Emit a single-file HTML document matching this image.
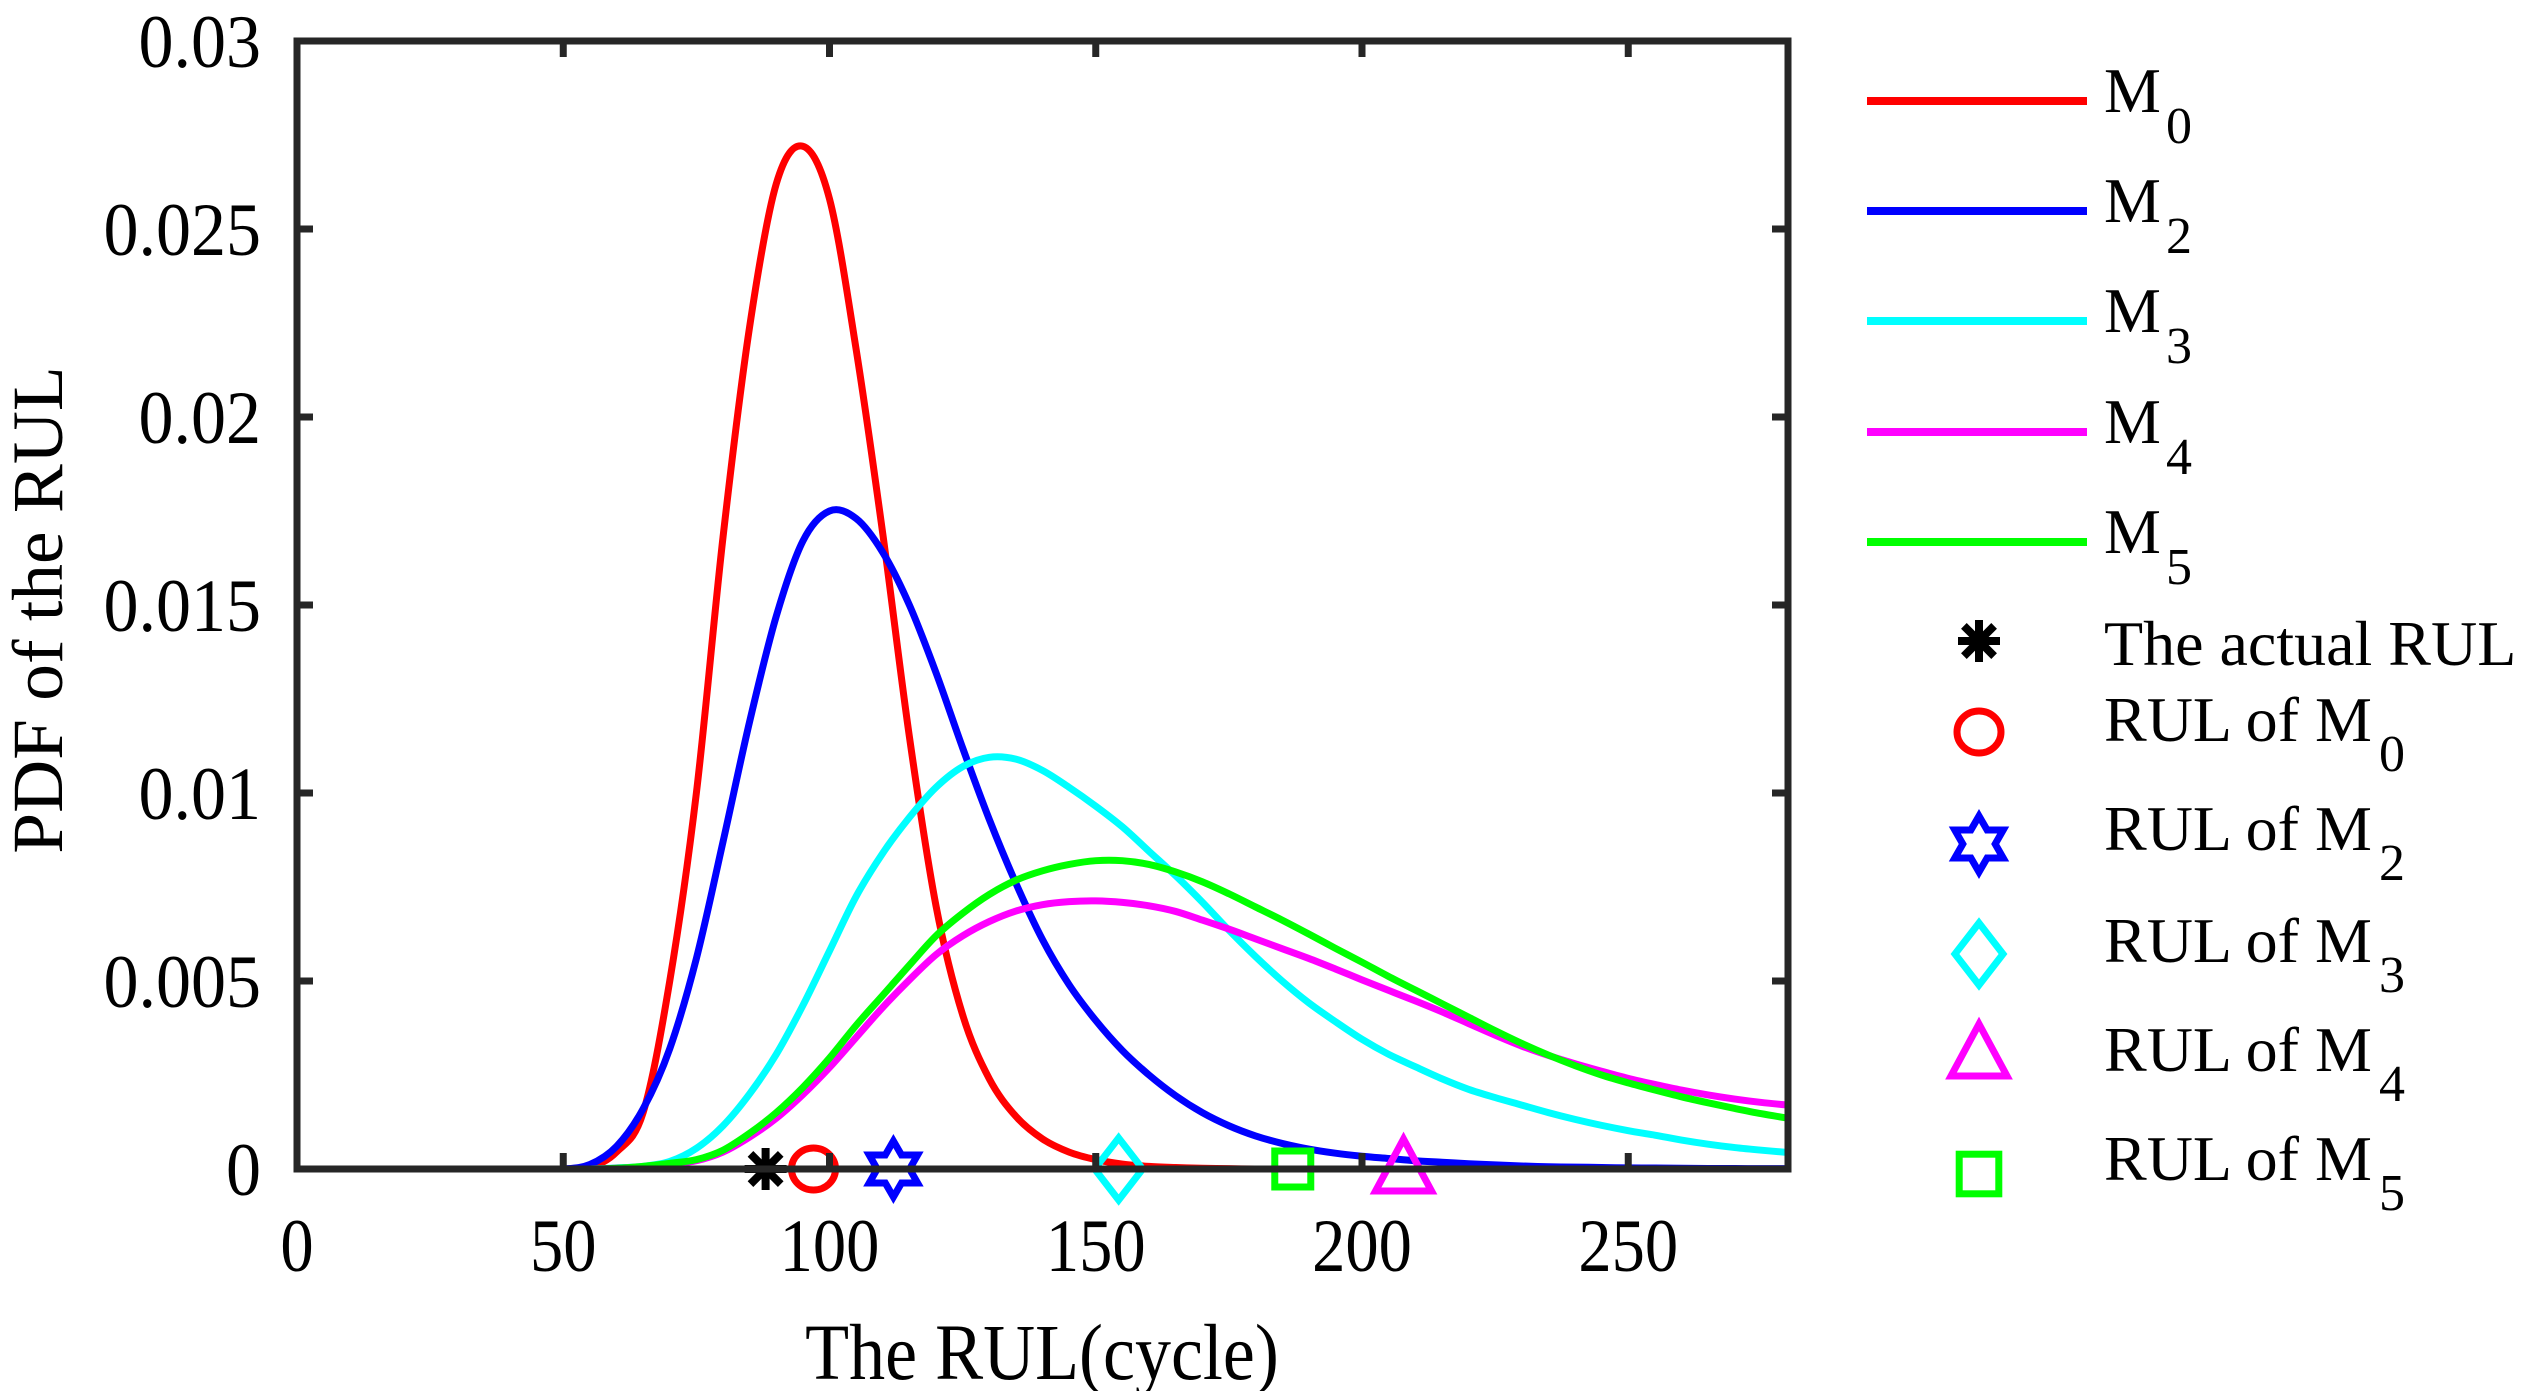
<!DOCTYPE html>
<html><head><meta charset="utf-8">
<style>
html,body{margin:0;padding:0;background:#fff;}
svg{display:block;}
text{font-family:"Liberation Serif",serif;fill:#000;}
</style></head>
<body>
<svg id="chart" xmlns="http://www.w3.org/2000/svg" width="2539" height="1391" viewBox="0 0 2539 1391">
<rect x="0" y="0" width="2539" height="1391" fill="#fff"/>
<g id="plot"></g>
<g id="axes"></g>
<g id="legend"></g>
</svg>
<script>
const xGrid = [0,40,45,50,55,60,65,70,75,80,85,90,95,100,105,110,115,120,125,130,135,140,145,150,155,160,165,170,175,180,185,190,195,200,205,210,215,220,225,230,235,240,245,250,255,260,265,270,275,280];
// values in units of 0.001
const m0Values = [0,0,0,0,0.05,0.45,1.5,5.0,10.0,16.8,22.4,26.2,27.2,25.8,21.8,16.9,11.5,7.0,4.1,2.4,1.4,0.8,0.45,0.25,0.13,0.07,0.04,0.02,0.01,0,0,0,0,0,0,0,0,0,0,0,0,0,0,0,0,0,0,0,0,0];
const m2Values = [0,0,0,0,0.12,0.6,1.6,3.2,5.6,8.7,11.9,14.7,16.7,17.5,17.3,16.4,15.0,13.2,11.2,9.3,7.6,6.1,4.9,3.95,3.15,2.5,1.95,1.5,1.15,0.88,0.68,0.53,0.42,0.34,0.28,0.22,0.18,0.14,0.11,0.08,0.06,0.05,0.04,0.03,0.025,0.02,0.015,0.012,0.01,0.01];
const m3Values = [0,0,0,0,0,0.03,0.07,0.2,0.55,1.15,2.0,3.05,4.35,5.8,7.25,8.4,9.35,10.15,10.7,10.95,10.9,10.6,10.15,9.65,9.1,8.45,7.8,7.1,6.35,5.65,5.0,4.42,3.92,3.45,3.05,2.72,2.4,2.12,1.9,1.7,1.5,1.32,1.16,1.02,0.9,0.77,0.66,0.57,0.5,0.44];
const m4Values = [0,0,0,0,0,0.02,0.06,0.13,0.22,0.45,0.85,1.35,1.98,2.7,3.5,4.3,5.03,5.7,6.2,6.58,6.86,7.03,7.11,7.13,7.09,7.0,6.85,6.62,6.38,6.12,5.86,5.6,5.32,5.03,4.75,4.47,4.18,3.87,3.56,3.27,3.02,2.8,2.6,2.41,2.25,2.1,1.97,1.86,1.77,1.7];
const m5Values = [0,0,0,0,0,0.02,0.07,0.15,0.25,0.5,0.95,1.5,2.17,2.95,3.82,4.62,5.42,6.2,6.8,7.3,7.68,7.93,8.1,8.2,8.2,8.1,7.9,7.64,7.32,6.97,6.62,6.25,5.87,5.5,5.12,4.76,4.4,4.04,3.68,3.34,3.03,2.75,2.5,2.29,2.1,1.92,1.76,1.61,1.47,1.35];
const markerX = [88, 97, 112, 154.3, 207.8, 187];
const xTicks = [0,50,100,150,200,250];
const yTicks = [0,0.005,0.01,0.015,0.02,0.025,0.03];
const yTickLabels = ["0","0.005","0.01","0.015","0.02","0.025","0.03"];

const NS = "http://www.w3.org/2000/svg";
const X0=297, X1=1788, Y0=1169, Y1=41, XMAX=280, YMAX=0.03;
function sx(v){return X0+(v/XMAX)*(X1-X0);}
function sy(v){return Y0-(v/YMAX)*(Y0-Y1);}
function mk(tag, attrs, parent){const e=document.createElementNS(NS,tag);for(const k in attrs)e.setAttribute(k,attrs[k]);parent.appendChild(e);return e;}
const plot=document.getElementById('plot'), axes=document.getElementById('axes'), legend=document.getElementById('legend');

function pathFor(vals){
  const pts=xGrid.map((x,i)=>[sx(x),sy(vals[i]/1000)]);
  let d="M"+pts[0][0].toFixed(2)+","+pts[0][1].toFixed(2);
  for(let i=0;i<pts.length-1;i++){
    const p0=pts[Math.max(0,i-1)],p1=pts[i],p2=pts[i+1],p3=pts[Math.min(pts.length-1,i+2)];
    let c1x=p1[0]+(p2[0]-p0[0])/6,c1y=p1[1]+(p2[1]-p0[1])/6;
    let c2x=p2[0]-(p3[0]-p1[0])/6,c2y=p2[1]-(p3[1]-p1[1])/6;
    c1y=Math.min(c1y,Y0);c2y=Math.min(c2y,Y0);
    d+=" C"+c1x.toFixed(2)+","+c1y.toFixed(2)+" "+c2x.toFixed(2)+","+c2y.toFixed(2)+" "+p2[0].toFixed(2)+","+p2[1].toFixed(2);
  }
  return d;
}
const series=[["m0",m0Values,"#ff0000"],["m2",m2Values,"#0000ff"],["m3",m3Values,"#00ffff"],["m4",m4Values,"#ff00ff"],["m5",m5Values,"#00ff00"]];

const box=mk('rect',{x:X0,y:Y1,width:X1-X0,height:Y0-Y1,fill:'none',stroke:'#262626','stroke-width':7},axes);


xTicks.forEach(t=>{
  const x=sx(t);
  const a=mk('line',{x1:x,y1:Y0,x2:x,y2:Y0-16,stroke:'#262626','stroke-width':7},axes);
  
  
  const b=mk('line',{x1:x,y1:Y1,x2:x,y2:Y1+16,stroke:'#262626','stroke-width':7},axes);
  
  
  const tx=mk('text',{x:0,y:0,'text-anchor':'middle','font-size':70,fill:'#262626',transform:`translate(${x},1271) scale(0.95,1.08)`},axes);
  tx.textContent=String(t);
  
  
});
yTicks.forEach((t,i)=>{
  const y=sy(t);
  const a=mk('line',{x1:X0,y1:y,x2:X0+16,y2:y,stroke:'#262626','stroke-width':7},axes);
  
  
  const b=mk('line',{x1:X1,y1:y,x2:X1-16,y2:y,stroke:'#262626','stroke-width':7},axes);
  
  
  const tx=mk('text',{x:0,y:0,'text-anchor':'end','font-size':70,fill:'#262626',transform:`translate(261,${y+26}) scale(1,1.08)`},axes);
  tx.textContent=yTickLabels[i];
  
  
});
const xt=mk('text',{x:0,y:0,'text-anchor':'middle','font-size':72,fill:'#262626',transform:'translate(1042,1379) scale(1,1.1)'},axes);
xt.textContent="The RUL(cycle)";


const yt=mk('text',{x:0,y:0,'text-anchor':'middle','font-size':72,fill:'#262626',transform:'translate(62,610) rotate(-90) scale(1.02,1)'},axes);
yt.textContent="PDF of the RUL";



series.forEach(s=>{
  const p=mk('path',{d:pathFor(s[1]),fill:'none',stroke:s[2],'stroke-width':7,'stroke-linejoin':'round'},plot);
  
  
});

function drawMarker(type,cx,cy,parent,scale){
  const k=scale||1;
  let e;
  if(type==='star'){
    e=mk('g',{stroke:'#000','stroke-width':8},parent);
    const r=21*k;
    mk('line',{x1:cx-r,y1:cy,x2:cx+r,y2:cy},e);
    mk('line',{x1:cx,y1:cy-r,x2:cx,y2:cy+r},e);
    mk('line',{x1:cx-r*0.72,y1:cy-r*0.72,x2:cx+r*0.72,y2:cy+r*0.72},e);
    mk('line',{x1:cx-r*0.72,y1:cy+r*0.72,x2:cx+r*0.72,y2:cy-r*0.72},e);
  } else if(type==='circle'){
    e=mk('ellipse',{cx:cx,cy:cy,rx:22*k,ry:21*k,fill:'none',stroke:'#ff0000','stroke-width':7},parent);
  } else if(type==='hexagram'){
    const R=28*k,r=R/Math.sqrt(3);let pts=[];
    for(let i=0;i<12;i++){const a=-Math.PI/2+i*Math.PI/6;const rr=i%2?r:R;pts.push((cx+rr*Math.cos(a)).toFixed(1)+","+(cy+rr*Math.sin(a)).toFixed(1));}
    e=mk('polygon',{points:pts.join(' '),fill:'none',stroke:'#0000ff','stroke-width':7,'stroke-linejoin':'miter'},parent);
  } else if(type==='diamond'){
    const w=24*k,h=31*k;
    e=mk('polygon',{points:`${cx},${cy-h} ${cx+w},${cy} ${cx},${cy+h} ${cx-w},${cy}`,fill:'none',stroke:'#00ffff','stroke-width':7},parent);
  } else if(type==='triangle'){
    const w=28*k,h=24*k;
    e=mk('polygon',{points:`${cx},${cy-h-6*k} ${cx+w},${cy+h-2*k} ${cx-w},${cy+h-2*k}`,fill:'none',stroke:'#ff00ff','stroke-width':7},parent);
  } else if(type==='square'){
    const w=18*k;
    e=mk('rect',{x:cx-w,y:cy-w,width:2*w,height:2*w,fill:'none',stroke:'#00ff00','stroke-width':7},parent);
  }
  return e;
}
const markerTypes=['star','circle','hexagram','diamond','triangle','square'];
const markerNames=['actual-rul-marker','rul-m0-marker','rul-m2-marker','rul-m3-marker','rul-m4-marker','rul-m5-marker'];
markerTypes.forEach((t,i)=>{
  const e=drawMarker(t,sx(markerX[i]),Y0,plot,1);
  
  
});

const lineRows=[["M","0",101,"#ff0000"],["M","2",211,"#0000ff"],["M","3",321,"#00ffff"],["M","4",432,"#ff00ff"],["M","5",542,"#00ff00"]];
lineRows.forEach((r,i)=>{
  const g=mk('g',{},legend);
  
  
  mk('line',{x1:1867,y1:r[2],x2:2087,y2:r[2],stroke:r[3],'stroke-width':8},g);
  const t=mk('text',{x:2104,y:r[2]+11,'font-size':64},g);
  t.textContent=r[0];
  const s=mk('text',{x:2166,y:r[2]+42,'font-size':52},g);
  s.textContent=r[1];
});
const markerRows=[["star","The actual RUL","",641,665],["circle","RUL of M","0",732,741],["hexagram","RUL of M","2",844,850],["diamond","RUL of M","3",954,962],["triangle","RUL of M","4",1054,1071],["square","RUL of M","5",1174,1180]];
markerRows.forEach((r,i)=>{
  const g=mk('g',{},legend);
  
  
  drawMarker(r[0],1979,r[3],g,r[0]==='square'?1.1:1);
  const t=mk('text',{x:2104,y:r[4],'font-size':64},g);
  t.textContent=r[1];
  if(r[2]){const s=mk('text',{x:2379,y:r[4]+30,'font-size':52},g);s.textContent=r[2];}
});
</script>
</body></html>
